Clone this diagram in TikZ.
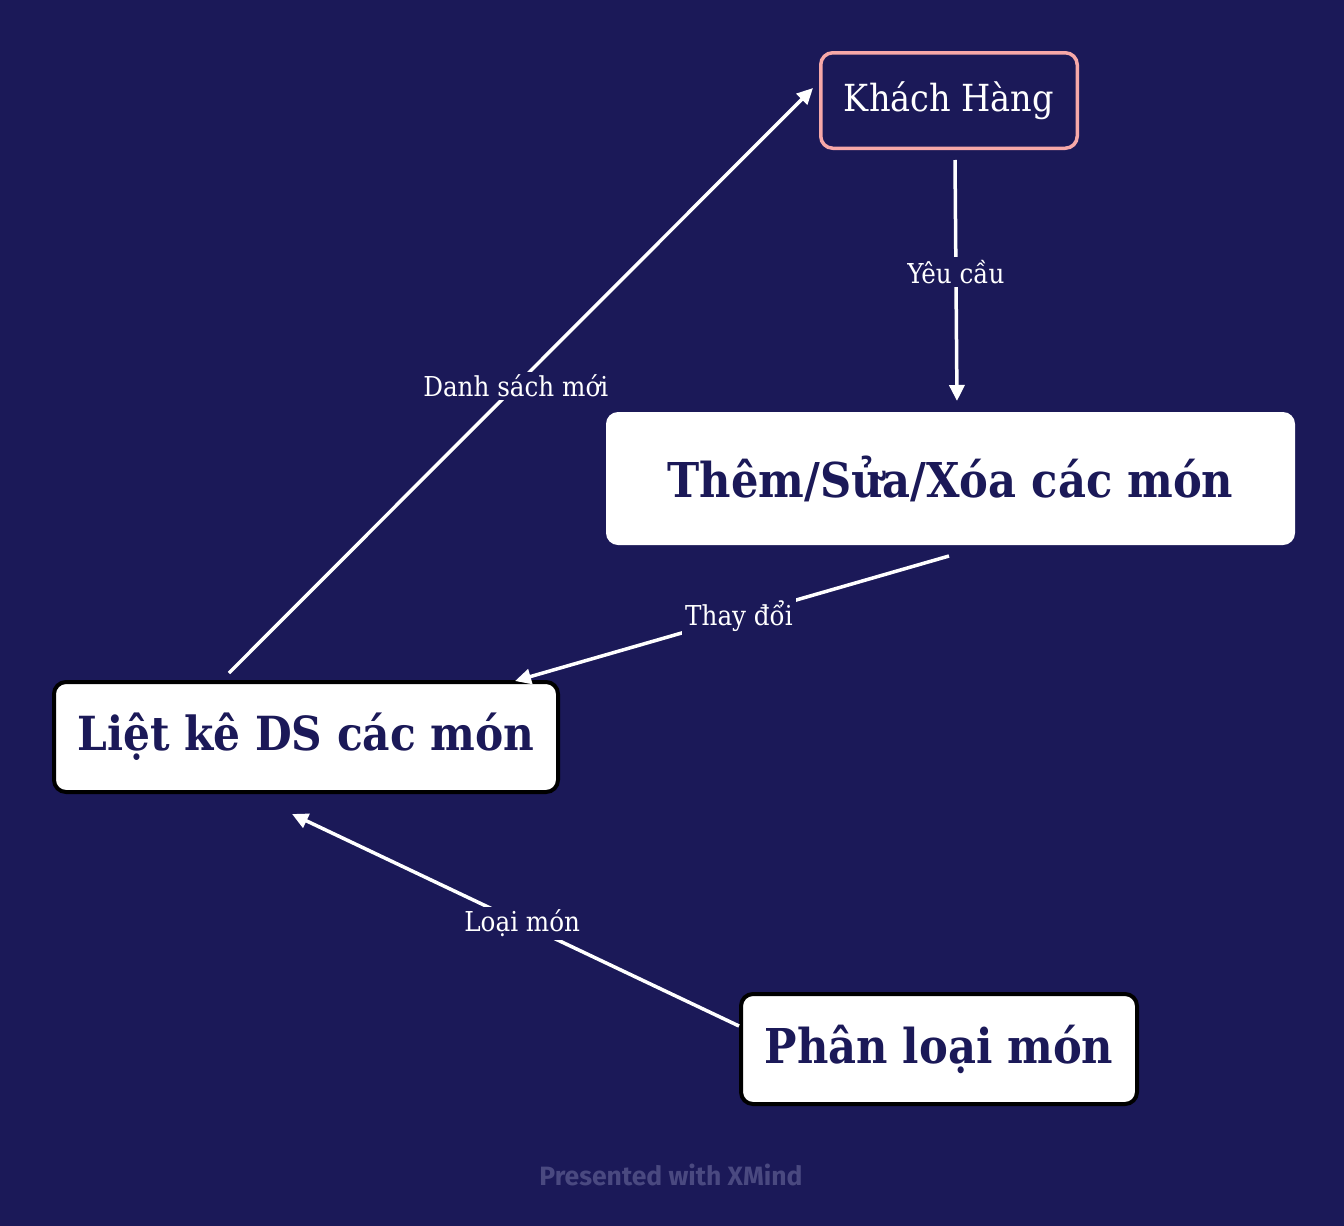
\documentclass[tikz,border=0pt]{standalone}
\usepackage{fontspec}
\usetikzlibrary{arrows.meta}
\setmainfont{DejaVu Serif Condensed}
\newfontfamily\xmfont{Fira Sans}
\definecolor{bg}{RGB}{27,25,88}
\definecolor{navy}{RGB}{27,25,88}
\definecolor{pinkb}{RGB}{247,168,168}
\definecolor{wm}{RGB}{74,73,128}
\tikzset{
  topicbox/.style={rounded corners=12pt, fill=white, draw=black, line width=4pt, text=navy, font=\bfseries\fontsize{48}{54}\selectfont, inner sep=0pt},
  custbox/.style={rounded corners=12pt, draw=pinkb, line width=3.5pt, text=white, font=\fontsize{37.3}{44}\selectfont, inner sep=0pt},
  conn/.style={draw=white, line width=3.5pt, -{Triangle[length=16pt,width=15pt]}},
  lbl/.style={fill=bg, text=white, font=\fontsize{27.4}{32}\selectfont, inner sep=3pt}
}
\begin{document}
\begin{tikzpicture}[x=1pt,y=-1pt]
\fill[bg] (0,0) rectangle (1344,1226);
\useasboundingbox (0,0) rectangle (1344,1226);
\node[custbox, minimum width=256.5pt, minimum height=95.5pt] (kh) at (949,100.5) {Khách Hàng};
\node[topicbox, draw=none, minimum width=689pt, minimum height=133pt] (them) at (950.5,478.5) {Thêm/Sửa/Xóa các món};
\node[topicbox, font=\bfseries\fontsize{47}{54}\selectfont, minimum width=504pt, minimum height=110pt] (liet) at (306,737) {Liệt kê DS các món};
\node[topicbox, minimum width=396pt, minimum height=110pt] (phan) at (939,1049) {Phân loại món};
\draw[conn] ([xshift=6pt,yshift=-10pt]kh.south) -- node[lbl,pos=0.465]{Yêu cầu} ([xshift=6.5pt,yshift=9pt]them.north);
\draw[conn] ([xshift=-1.5pt,yshift=-9pt]them.south) -- node[lbl,pos=0.484]{Thay đổi} ([xshift=-45pt,yshift=-1pt]liet.north east);
\draw[conn] ([xshift=-77pt,yshift=7pt]liet.north) -- node[lbl,pos=0.491]{Danh sách mới} ([xshift=-6pt,yshift=12.5pt]kh.west);
\draw[conn] ([yshift=23pt]phan.west) -- node[lbl,pos=0.485]{Loại món} ([xshift=-14pt,yshift=-20pt]liet.south);
\node[text=wm, font=\xmfont\bfseries\fontsize{26.5}{32}\selectfont] (xm) at (671,1175) {Presented with XMind};
\end{tikzpicture}
\end{document}
